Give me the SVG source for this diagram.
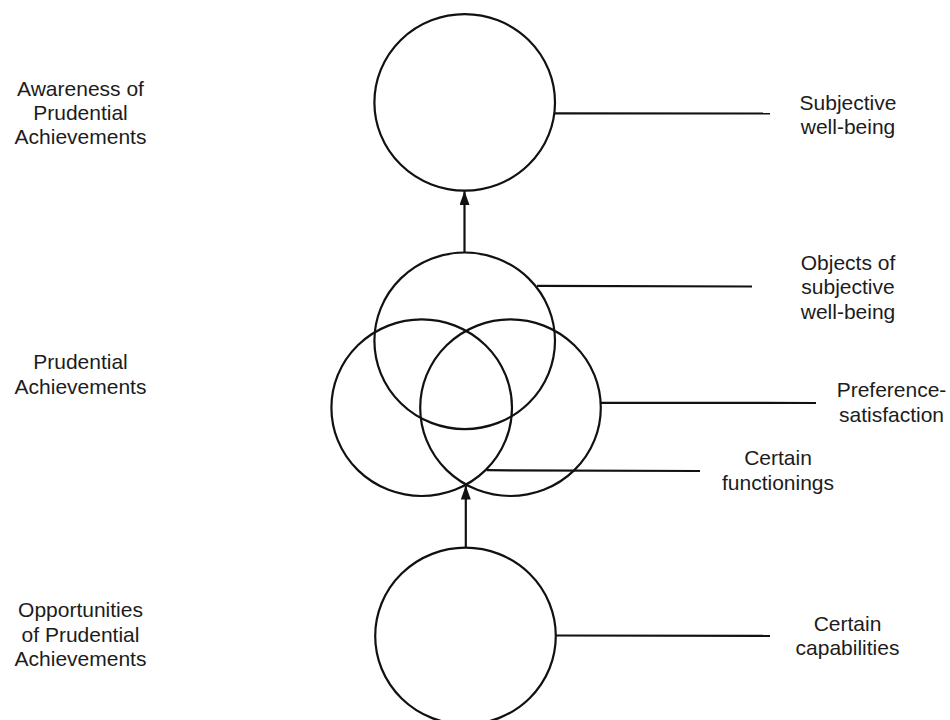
<svg xmlns="http://www.w3.org/2000/svg" width="950" height="720" viewBox="0 0 950 720">
  <style>
    .node { fill: none; stroke: #111; stroke-width: 2.2; }
    .conn { fill: none; stroke: #111; stroke-width: 2.2; }
    .lbl { font-family: "Liberation Sans", Arial, sans-serif; font-size: 21px; fill: #1c1c1c; text-anchor: middle; }
  </style>
  <defs>
    <marker id="arrow" markerUnits="userSpaceOnUse" markerWidth="16" markerHeight="12" refX="14" refY="5" orient="auto">
      <path d="M0,0 L14,5 L0,10 Z" fill="#111"/>
    </marker>
  </defs>
  <rect width="950" height="720" fill="#fff"/>

  <g id="left-labels">
    <text class="lbl" x="80.5" y="96">Awareness of</text>
    <text class="lbl" x="80.5" y="120">Prudential</text>
    <text class="lbl" x="80.5" y="144">Achievements</text>
    <text class="lbl" x="80.5" y="369">Prudential</text>
    <text class="lbl" x="80.5" y="393.5">Achievements</text>
    <text class="lbl" x="80.5" y="617">Opportunities</text>
    <text class="lbl" x="80.5" y="641.5">of Prudential</text>
    <text class="lbl" x="80.5" y="666">Achievements</text>
  </g>

  <g id="node-subjective">
    <ellipse class="node" cx="464.7" cy="102.4" rx="90.3" ry="88.3"/>
    <text class="lbl" x="848" y="109.5">Subjective</text>
    <text class="lbl" x="848" y="133.5">well-being</text>
  </g>
  <g id="node-objects">
    <ellipse class="node" cx="464.7" cy="340.8" rx="90.3" ry="88.3"/>
    <text class="lbl" x="848" y="269.5">Objects of</text>
    <text class="lbl" x="848" y="294">subjective</text>
    <text class="lbl" x="848" y="318.5">well-being</text>
  </g>
  <g id="node-functionings">
    <ellipse class="node" cx="421.7" cy="407.7" rx="90.3" ry="88.3"/>
    <text class="lbl" x="778" y="465">Certain</text>
    <text class="lbl" x="778" y="489.5">functionings</text>
  </g>
  <g id="node-preference">
    <ellipse class="node" cx="510.5" cy="407.7" rx="90.3" ry="88.3"/>
    <text class="lbl" x="891.5" y="397">Preference-</text>
    <text class="lbl" x="891.5" y="421.5">satisfaction</text>
  </g>
  <g id="node-capabilities">
    <ellipse class="node" cx="465.5" cy="636" rx="90.3" ry="88.3"/>
    <text class="lbl" x="847.5" y="631">Certain</text>
    <text class="lbl" x="847.5" y="655">capabilities</text>
  </g>

  <g id="connectors">
    <line class="conn" x1="464.5" y1="252.5" x2="464.5" y2="191" marker-end="url(#arrow)"/>
    <line class="conn" x1="465.8" y1="547.7" x2="465.8" y2="485.5" marker-end="url(#arrow)"/>
    <line class="conn" x1="555" y1="113.3" x2="770" y2="113.5"/>
    <line class="conn" x1="537" y1="285.8" x2="752" y2="286.5"/>
    <line class="conn" x1="600.8" y1="402.8" x2="816" y2="403"/>
    <line class="conn" x1="486.7" y1="470.2" x2="700" y2="471"/>
    <line class="conn" x1="555.8" y1="635.5" x2="770" y2="635.8"/>
  </g>
</svg>
